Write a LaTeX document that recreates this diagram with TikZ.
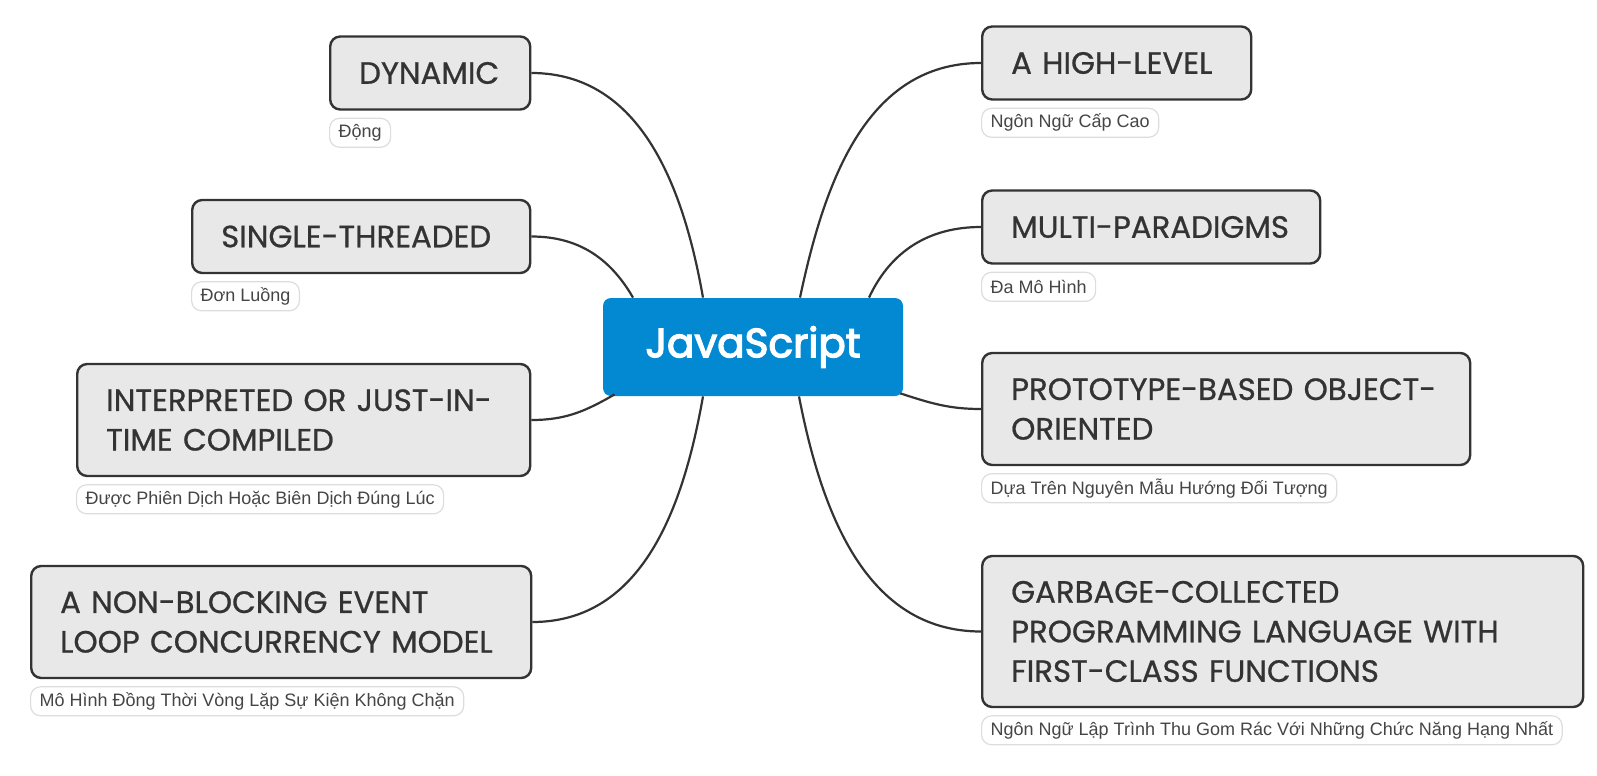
\documentclass[tikz,border=0pt]{standalone}
\usepackage{fontspec}
\setmainfont{Liberation Sans}
\newfontfamily\topicfont{Poppins}[FakeBold=0.7]
\newfontfamily\rootfont{Poppins}[FakeBold=3.2]
\usetikzlibrary{positioning}

\definecolor{ink}{HTML}{333333}
\definecolor{topicfill}{HTML}{E8E8E8}
\definecolor{rootblue}{HTML}{0388D2}
\definecolor{notegray}{HTML}{DDDDDD}
\definecolor{notetext}{HTML}{454545}

\tikzstyle{rootNode} = [rectangle, rounded corners=4pt, minimum width=150pt, minimum height=49pt, fill=rootblue, text=white, font=\rootfont\fontsize{20.3}{25}\selectfont]
\tikzstyle{topicNode} = [rectangle, rounded corners=5pt, draw=ink, line width=1.2pt, fill=topicfill, text=ink, align=left, inner xsep=14.5pt, inner ysep=0pt, font=\topicfont\fontsize{15.4}{19.8}\selectfont]
\tikzstyle{noteNode} = [rectangle, rounded corners=5pt, draw=notegray, line width=0.6pt, fill=white, text=notetext, inner xsep=4.5pt, inner ysep=0pt, minimum height=14.5pt, font=\fontsize{9}{11}\selectfont]
\tikzstyle{link} = [ink, line width=1.1pt]

\begin{document}
\begin{tikzpicture}[x=0.5pt, y=-0.5pt]
    \useasboundingbox (0,0) rectangle (1597,776);

    \node (js)[rootNode] at (753,347) {JavaScript};

    \node (dyn)[topicNode, text width=71pt, minimum height=36.5pt, anchor=west] at (329,73) {DYNAMIC};
    \node (single)[topicNode, text width=140pt, minimum height=36.5pt, anchor=west] at (191,236.5) {SINGLE-THREADED};
    \node (interp)[topicNode, text width=197.5pt, minimum height=56pt, anchor=west] at (76,420) {INTERPRETED OR JUST-IN-\\TIME COMPILED};
    \node (nonblock)[topicNode, text width=221pt, minimum height=56pt, anchor=west] at (30,622) {A NON-BLOCKING EVENT\\LOOP CONCURRENCY MODEL};

    \node (high)[topicNode, text width=105.5pt, minimum height=36.5pt, anchor=west] at (981,63) {A HIGH-LEVEL};
    \node (multi)[topicNode, text width=140pt, minimum height=36.5pt, anchor=west] at (981,227) {MULTI-PARADIGMS};
    \node (proto)[topicNode, text width=215pt, minimum height=56pt, anchor=west] at (981,409) {PROTOTYPE-BASED OBJECT-\\ORIENTED};
    \node (garbage)[topicNode, text width=271.5pt, minimum height=75.5pt, anchor=west] at (981,631.5) {GARBAGE-COLLECTED\\PROGRAMMING LANGUAGE WITH\\FIRST-CLASS FUNCTIONS};

    \node (dynN)[noteNode, below=3.5pt of dyn.south west, anchor=north west] {Động};
    \node (singleN)[noteNode, below=3.5pt of single.south west, anchor=north west] {Đơn Luồng};
    \node (interpN)[noteNode, below=3.5pt of interp.south west, anchor=north west] {Được Phiên Dịch Hoặc Biên Dịch Đúng Lúc};
    \node (nonblockN)[noteNode, below=3.5pt of nonblock.south west, anchor=north west] {Mô Hình Đồng Thời Vòng Lặp Sự Kiện Không Chặn};
    \node (highN)[noteNode, below=3.5pt of high.south west, anchor=north west] {Ngôn Ngữ Cấp Cao};
    \node (multiN)[noteNode, below=3.5pt of multi.south west, anchor=north west] {Đa Mô Hình};
    \node (protoN)[noteNode, below=3.5pt of proto.south west, anchor=north west] {Dựa Trên Nguyên Mẫu Hướng Đối Tượng};
    \node (garbageN)[noteNode, below=3.5pt of garbage.south west, anchor=north west] {Ngôn Ngữ Lập Trình Thu Gom Rác Với Những Chức Năng Hạng Nhất};

    \draw [link] (dyn.east) to[out=0, in=100] ([xshift=-25pt]js.north);
    \draw [link] (single.east) to[out=0, in=120] ([xshift=-60pt]js.north);
    \draw [link] (interp.east) to[out=0, in=210] ([xshift=6pt,yshift=1pt]js.south west);
    \draw [link] (nonblock.east) to[out=0, in=260] ([xshift=-25pt]js.south);
    \draw [link] (high.west) to[out=180, in=78] ([xshift=23.5pt]js.north);
    \draw [link] (multi.west) to[out=180, in=65] ([xshift=58pt]js.north);
    \draw [link] (proto.west) to[out=180, in=-18] ([xshift=-1.5pt,yshift=1.5pt]js.south east);
    \draw [link] (garbage.west) to[out=180, in=-79] ([xshift=23pt]js.south);

\end{tikzpicture}
\end{document}
